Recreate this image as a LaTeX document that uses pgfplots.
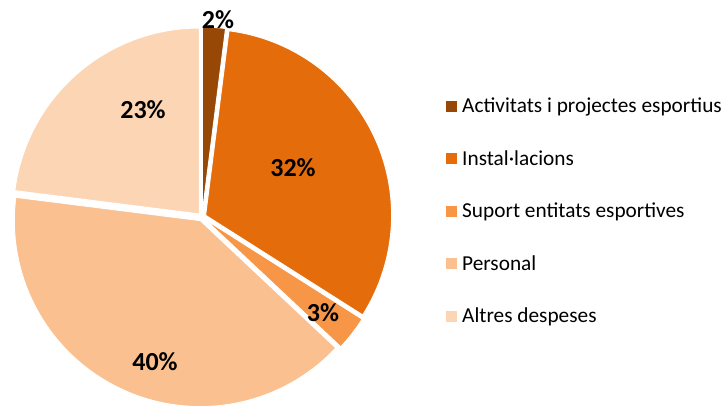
\documentclass[border=0pt]{standalone}
\usepackage{pgfplots}
\pgfplotsset{compat=1.18}
\usepackage{fontspec}
\setmainfont{Carlito}
\definecolor{cA}{HTML}{974806}
\definecolor{cB}{HTML}{E46C0A}
\definecolor{cC}{HTML}{F79646}
\definecolor{cD}{HTML}{FAC090}
\definecolor{cE}{HTML}{FCD5B5}
% data (percent)
\def\vA{2}\def\vB{32}\def\vC{3}\def\vD{40}\def\vE{23}
% geometry (pixels)
\def\cx{202}\def\cy{189}\def\R{186}\def\dd{4}
\newcommand\slice[3]{% start angle, end angle, colour
  \pgfmathsetmacro\mid{(#1+#2)/2}%
  \pgfmathsetmacro\ox{\cx+\dd*cos(\mid)}%
  \pgfmathsetmacro\oy{\cy+\dd*sin(\mid)}%
  \edef\tmp{\noexpand\addplot[fill=#3, draw=white, line width=1bp, domain=#2:#1, samples=90, forget plot]
    ({\ox+\R*cos(x)},{\oy+\R*sin(x)}) -- (axis cs:\ox,\oy) -- cycle;}%
  \tmp
}
\begin{document}
\begin{tikzpicture}
\useasboundingbox (0,0) rectangle (724bp,406bp);
\begin{axis}[hide axis, scale only axis, width=724bp, height=406bp,
  xmin=0, xmax=724, ymin=0, ymax=406, clip=false,
  legend image code/.code={\fill[#1] (0bp,-5.5bp) rectangle (11bp,5.5bp); \path (14bp,0bp);},
  legend style={draw=none, fill=none, at={(axis cs:446,310)}, anchor=north west,
    font=\fontsize{21.3bp}{24bp}\selectfont, row sep=32.2bp, inner sep=0pt,
    nodes={inner sep=2bp}},
  legend cell align=left]
\pgfmathsetmacro\aA{90}
\pgfmathsetmacro\aB{\aA-3.6*\vA}
\pgfmathsetmacro\aC{\aB-3.6*\vB}
\pgfmathsetmacro\aD{\aC-3.6*\vC}
\pgfmathsetmacro\aE{\aD-3.6*\vD}
\pgfmathsetmacro\aF{\aE-3.6*\vE}
\slice{\aA}{\aB}{cA}
\slice{\aB}{\aC}{cB}
\slice{\aC}{\aD}{cC}
\slice{\aD}{\aE}{cD}
\slice{\aE}{\aF}{cE}
\addlegendimage{fill=cA, draw=none}\addlegendentry{Activitats i projectes esportius}
\addlegendimage{fill=cB, draw=none}\addlegendentry{Instal·lacions}
\addlegendimage{fill=cC, draw=none}\addlegendentry{Suport entitats esportives}
\addlegendimage{fill=cD, draw=none}\addlegendentry{Personal}
\addlegendimage{fill=cE, draw=none}\addlegendentry{Altres despeses}
\begin{scope}[every node/.style={font=\fontsize{26bp}{28bp}\selectfont\bfseries}]
\node at (axis cs:218,386) {2\%};
\node at (axis cs:143,296) {23\%};
\node at (axis cs:293,238) {32\%};
\node at (axis cs:323,93) {3\%};
\node at (axis cs:155,44) {40\%};
\end{scope}
\end{axis}
\end{tikzpicture}
\end{document}
